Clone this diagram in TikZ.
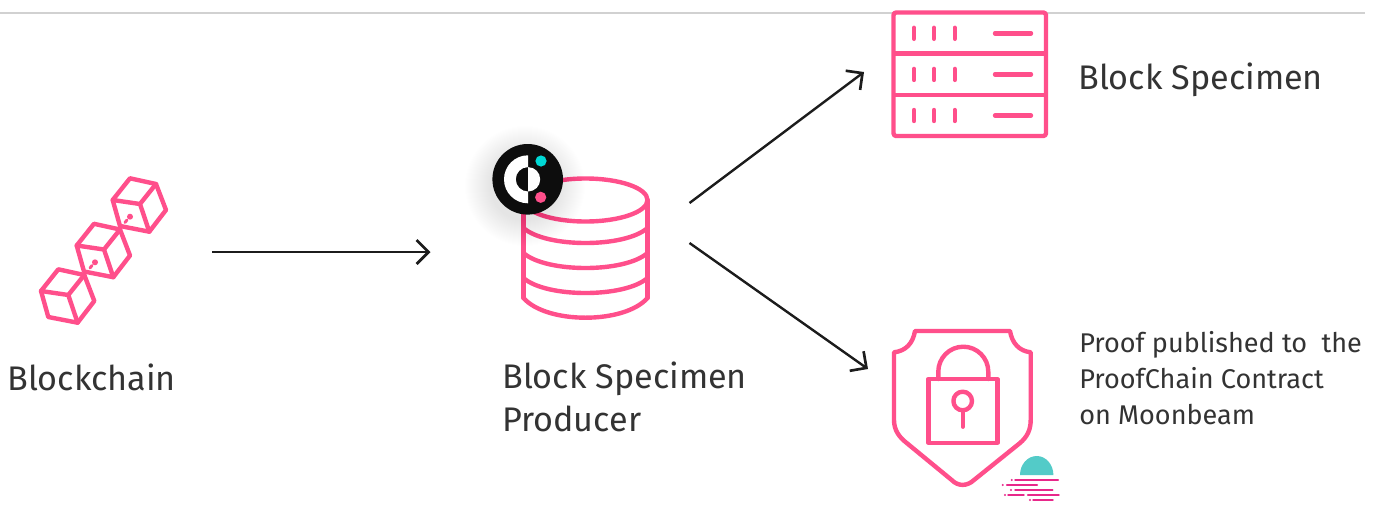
\documentclass[tikz,border=0pt]{standalone}
\usepackage{fontspec}
\setmainfont{Fira Sans}
\usetikzlibrary{arrows.meta}
\definecolor{pinkline}{HTML}{FF4F8B}
\definecolor{inkline}{HTML}{1C1C1C}
\definecolor{inktext}{HTML}{333333}
\definecolor{tealdisc}{HTML}{53CBC8}
\definecolor{moonline}{HTML}{E8288A}
\definecolor{logoteal}{HTML}{00D8D5}
\tikzset{
  icon/.style={draw=pinkline,line width=3.3pt,line cap=round,line join=round},
  tick/.style={draw=pinkline,line width=3.3pt,line cap=round},
  conn/.style={draw=inkline,line width=1.8pt,-{Straight Barb[length=9pt,width=18pt,line width=2pt]}},
  hitbox/.style={inner sep=0pt,outer sep=0pt,draw=none},
  lab/.style={anchor=base west,inner sep=0pt,text=inktext},
  big/.style={lab,font=\fontsize{25.6}{26}\selectfont},
  small/.style={lab,font=\fontsize{20.3}{21}\selectfont},
  moon/.style={draw=moonline,line width=1.1pt,line cap=round},
}
\newcommand{\cubeicon}[2]{%
  \begin{scope}[shift={(#1,#2)}]
    \draw[icon] (-10,-25.7) -- (16,-20) -- (26,6) -- (9.3,27.7) -- (-20,22) -- (-27.3,-4) -- cycle;
    \draw[icon] (-27.3,-4) -- (0,0) -- (16,-20) (0,0) -- (9.3,27.7);
  \end{scope}}
\begin{document}
\begin{tikzpicture}[x=0.75pt,y=-0.75pt]
\useasboundingbox (0,0) rectangle (1375,504);
\fill[white] (0,0) rectangle (1375,504);
\draw[draw=black!18,line width=1pt] (0,13) -- (1365,13);

% invisible frames that the connectors attach to
\node[hitbox,minimum width=129pt,minimum height=108pt] (chain) at (126,252) {};
\node[hitbox,minimum width=194.25pt,minimum height=73.5pt] (prod) at (560,252) {};
\node[hitbox,minimum width=135pt,minimum height=90pt] (server) at (954,72) {};
\node[hitbox,minimum width=123pt,minimum height=120pt] (shield) at (950,369) {};

% blockchain
\cubeicon{140}{204}
\cubeicon{104}{249.5}
\cubeicon{68.3}{295}
\fill[pinkline] (130,216.7) circle[radius=3] (95,262.3) circle[radius=3];
\draw[icon,line width=2.2pt] (127,220) -- (125,222.5) (92,265.5) -- (90,268);

% database
\draw[icon] (585.5,200) ellipse[x radius=62,y radius=21.5];
\draw[icon] (523.5,200) -- (523.5,298) (647.5,200) -- (647.5,298);
\draw[icon] (523.5,228) .. controls (535,238) and (560,243) .. (585.5,243) .. controls (611,243) and (636,238) .. (647.5,228);
\draw[icon] (523.5,253) .. controls (535,263) and (560,268) .. (585.5,268) .. controls (611,268) and (636,263) .. (647.5,253);
\draw[icon] (523.5,278) .. controls (535,288) and (560,293) .. (585.5,293) .. controls (611,293) and (636,288) .. (647.5,278);
\draw[icon] (523.5,298) .. controls (535,311) and (560,317.7) .. (585.5,317.7) .. controls (611,317.7) and (636,311) .. (647.5,298);

% logo
\foreach \r in {35,36,...,60}
  \fill[black,opacity=0.0035] (525,186) circle[radius=\r];
\fill[black!95] (527.7,179.3) circle[radius=35.3];
\fill[white] (528,155.3) arc[start angle=270,end angle=90,radius=24] -- (528,191.5) arc[start angle=90,end angle=270,radius=12.2] -- cycle;
\fill[white] (528,167.1) arc[start angle=-90,end angle=90,radius=12.2] -- cycle;
\fill[logoteal] (541,161) circle[radius=5.6];
\fill[pinkline] (540.7,197.3) circle[radius=5.6];

% server
\draw[icon,rounded corners=2pt] (893.5,12.5) rectangle (1046,136);
\draw[icon,line cap=butt] (893.5,53.3) -- (1046,53.3) (893.5,95) -- (1046,95);
\foreach \y in {33.3,74.4,115.5}{
  \foreach \x in {914,934,954.7}
    \draw[tick] (\x,\y-5.5) -- (\x,\y+5.5);
  \draw[tick] (995,\y) -- (1031,\y);
}

% shield
\draw[icon] (915,331) -- (1010,331) .. controls (1012,343) and (1019,351) .. (1030.7,352.3)
  -- (1030.7,420) .. controls (1030.7,430) and (1027,437) .. (1020,443)
  -- (974,480) .. controls (967,486.5) and (958,486.5) .. (951.7,480)
  -- (906.7,443) .. controls (899,437) and (894,430) .. (894,420)
  -- (894,352.3) .. controls (906,351) and (913,343) .. (915,331) -- cycle;
\draw[icon] (928.3,379) rectangle (997.3,442.7);
\draw[icon] (938.3,379) -- (938.3,371.7) arc[start angle=180,end angle=360,radius=25] -- (988.3,379);
\draw[icon] (962.7,401) circle[radius=9.3];
\draw[icon] (962.7,410.3) -- (962.7,426.7);

% moonbeam mark
\fill[tealdisc] (1020,475) arc[start angle=180,end angle=360,x radius=16.7,y radius=19] -- cycle;
\draw[moon] (1015,480) -- (1058.3,480) (1006.7,485) -- (1037.3,485) (1015,490) -- (1052.7,490)
  (1008,495) -- (1024,495) (1027.7,495) -- (1059,495) (1033,500) -- (1053,500);
\fill[moonline] (1011.7,480) circle[radius=1.1] (1002.7,485) circle[radius=1.1] (1011,490) circle[radius=1.1]
  (1005,495) circle[radius=1.1] (1030,500) circle[radius=1.1];

% connectors
\draw[conn] (chain.east) -- (prod.west);
\draw[conn] (prod.north east) -- (server.west);
\draw[conn] ([yshift=6.75pt]prod.east) -- (shield.west);

% labels
\node[big] (t1) at (7,390) {Blockchain};
\node[big] (t2) at (502,388) {Block Specimen};
\node[big] (t3) at (502,431) {Producer};
\node[big] (t4) at (1078,89) {Block Specimen};
\node[small] (t5) at (1079,352.5) {Proof published to\ \ the};
\node[small] (t6) at (1079,388.5) {ProofChain Contract};
\node[small] (t7) at (1079,424.5) {on Moonbeam};
\end{tikzpicture}
\end{document}
